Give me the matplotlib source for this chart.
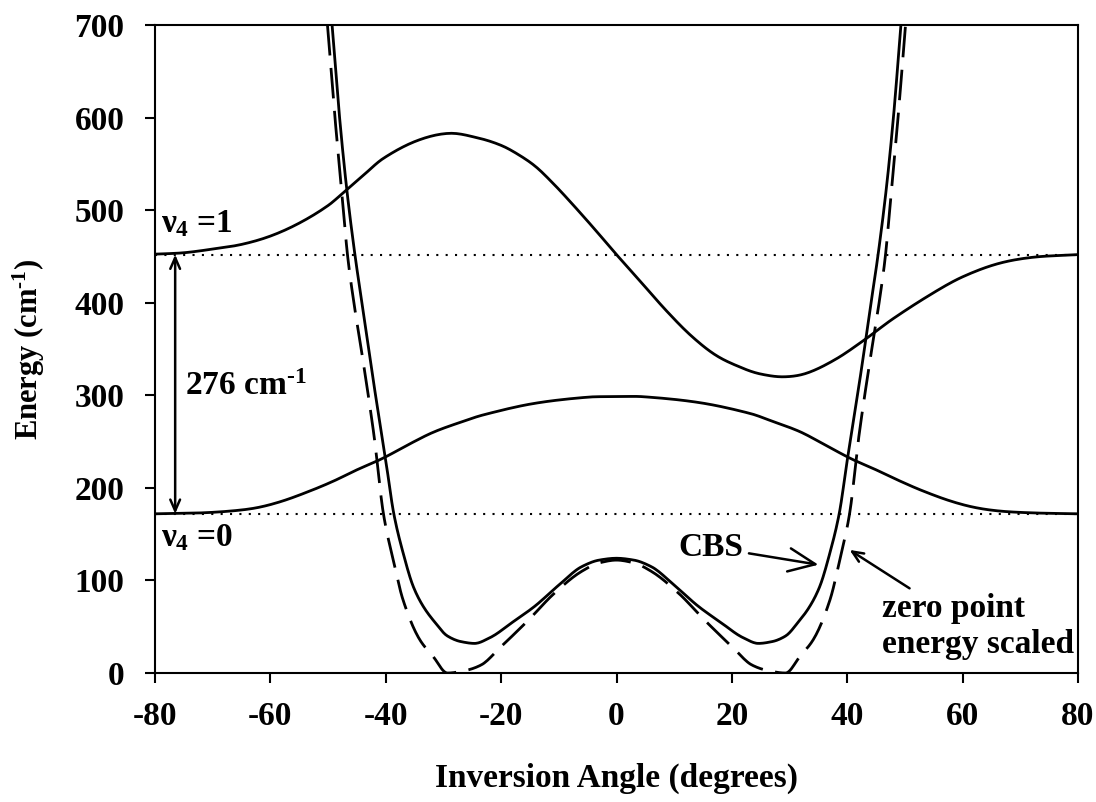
import numpy as np
import matplotlib
matplotlib.use("Agg")
import matplotlib.pyplot as plt

plt.rcParams['font.family'] = ['Liberation Serif', 'DejaVu Serif']
plt.rcParams['font.weight'] = 'bold'
plt.rcParams['axes.labelweight'] = 'bold'
plt.rcParams['axes.unicode_minus'] = False
plt.rcParams['mathtext.fontset'] = 'custom'
plt.rcParams['mathtext.rm'] = 'Liberation Serif:bold'
plt.rcParams['mathtext.it'] = 'Liberation Serif:bold'
plt.rcParams['mathtext.bf'] = 'Liberation Serif:bold'

# v4 = 1 level (upper band)
upper_x = [-80, -75, -70, -65, -60, -55, -50, -46.8, -44, -40.4, -34.6, -29, -24, -20, -17,
           -14, -11, -8, -4, 0, 4, 8.7, 13, 17.3, 22, 25, 29, 33, 38, 43, 48, 55, 60, 66, 72, 80]
upper_e = [452.5, 454, 458, 463, 472, 486, 505, 522, 537, 556, 575, 583, 578, 570, 560,
           547, 529, 509, 481, 452, 424, 391, 364, 343, 329, 323, 320, 324, 339, 360, 383,
           411, 428, 442, 449, 452]

# v4 = 0 level (lower band)
lower_x = [-80, -72, -66, -62, -57.8, -53, -49, -45, -40.5, -36, -31.8, -27, -23, -14.5, -5, 0,
           4.6, 14.5, 23.1, 27, 31.8, 36, 40.5, 45, 49.1, 53, 57.8, 62, 66.4, 72.2, 80]
lower_e = [172, 173, 175.5, 179, 186, 197, 207.5, 219.5, 232, 247, 260, 271, 279, 291, 298,
           298.5, 298.5, 292, 280.5, 272, 260.7, 247, 232, 219.5, 207.5, 197, 186, 179, 175,
           173, 172]

# CBS potential (solid)
cbs_x = [-49.3, -48, -46.8, -45.3, -44, -42.5, -40, -38.6, -37, -35.2, -33.5, -31.5, -29.3,
         -27, -24.6, -22, -18, -14.2, -10, -6, -3, 0,
         3, 6, 10, 14.2, 18, 22, 24.6, 27, 29.3, 31.5, 33.5, 35.2, 37, 38.6, 40, 42.5, 44,
         45.3, 46.8, 48, 49.3]
cbs_e = [700, 600, 525, 450, 395, 330, 230, 172, 130, 93, 72, 55, 40,
         34, 32, 38, 55, 72, 95, 115, 122, 124,
         122, 115, 95, 72, 55, 38, 32, 34, 40, 55, 72, 93, 130, 172, 230, 330, 395,
         450, 525, 600, 700]

# zero point energy scaled potential (dashed)
zpe_x = [-50.1, -48.8, -47.5, -46.6, -45.4, -44, -42, -40.4, -38.7, -37, -34.1, -31.8,
         -29.3, -26, -23.5, -20.1, -15.3, -10.8, -6, -3, 0,
         3, 6, 10.8, 15.3, 20.1, 23.5, 26, 29.3, 31.8, 34.1, 37, 38.7, 40.4, 42, 44, 45.4,
         46.6, 47.5, 48.8, 50.1]
zpe_e = [700, 600, 511, 450, 395, 340, 255, 172, 122, 79, 36, 18,
         0, 3, 8.6, 28, 57, 86, 110, 119, 122,
         119, 110, 86, 57, 28, 8.6, 3, 0, 18, 36, 79, 122, 172, 255, 340, 395,
         450, 511, 600, 700]

level_1 = 452
level_0 = 172

x_ticks = [-80, -60, -40, -20, 0, 20, 40, 60, 80]
y_ticks = [0, 100, 200, 300, 400, 500, 600, 700]


def smooth(x, y, n=12, monotone=True):
    # cubic hermite curve through the read points, only for drawing
    x = np.asarray(x, float)
    y = np.asarray(y, float)
    h = np.diff(x)
    d = np.diff(y) / h
    m = np.zeros_like(y)
    for k in range(1, len(x) - 1):
        if not monotone:
            m[k] = (y[k + 1] - y[k - 1]) / (x[k + 1] - x[k - 1])
        elif d[k - 1] * d[k] > 0:
            w1 = 2 * h[k] + h[k - 1]
            w2 = h[k] + 2 * h[k - 1]
            m[k] = (w1 + w2) / (w1 / d[k - 1] + w2 / d[k])
    m[0] = d[0]
    m[-1] = d[-1]
    xs, ys = [], []
    for k in range(len(x) - 1):
        t = np.linspace(0, 1, n, endpoint=False)
        h00 = 2 * t**3 - 3 * t**2 + 1
        h10 = t**3 - 2 * t**2 + t
        h01 = -2 * t**3 + 3 * t**2
        h11 = t**3 - t**2
        xs.append(x[k] + t * h[k])
        ys.append(h00 * y[k] + h10 * h[k] * m[k] + h01 * y[k + 1] + h11 * h[k] * m[k + 1])
    xs.append([x[-1]])
    ys.append([y[-1]])
    return np.concatenate(xs), np.concatenate(ys)


fig = plt.figure(figsize=(10.96, 8.02), dpi=100)
ax = fig.add_axes([0.1414, 0.1608, 0.8422, 0.808])

ax.axhline(level_1, color='black', lw=1.5, linestyle=(0, (1, 3.5)))
ax.axhline(level_0, color='black', lw=1.5, linestyle=(0, (1, 3.5)))

ax.plot(*smooth(upper_x, upper_e, monotone=False), color='black', lw=2)
ax.plot(*smooth(lower_x, lower_e, monotone=False), color='black', lw=2)
ax.plot(*smooth(cbs_x, cbs_e), color='black', lw=2)
ax.plot(*smooth(zpe_x, zpe_e), color='black', lw=2, linestyle=(0, (11, 4.5)))

ax.annotate('', xy=(-76.5, level_1), xytext=(-76.5, level_0),
            arrowprops=dict(arrowstyle='<->, head_length=0.8, head_width=0.35',
                            color='black', lw=1.8, shrinkA=0, shrinkB=0))

ax.text(-79, 476, r'$\nu_4$ =1', fontsize=24, ha='left', va='baseline')
ax.text(-79, 137, r'$\nu_4$ =0', fontsize=24, ha='left', va='baseline')
ax.text(-74.8, 309, r'276 cm$^{\text{-1}}$', fontsize=24, ha='left', va='center')

ax.annotate('CBS', xy=(35, 117), xytext=(22, 136), fontsize=24, ha='right', va='center',
            arrowprops=dict(arrowstyle='->, head_length=0.8, head_width=0.35',
                            color='black', lw=1.8, shrinkA=2, shrinkB=0))
ax.annotate('', xy=(40.4, 133), xytext=(50.8, 91.5),
            arrowprops=dict(arrowstyle='->, head_length=0.8, head_width=0.35',
                            color='black', lw=1.8, shrinkA=0, shrinkB=0))
ax.text(79.3, 50, 'zero point\nenergy scaled', fontsize=24, ha='right', va='center',
        linespacing=1.2, multialignment='left')

ax.set_xlim(-80, 80)
ax.set_ylim(0, 700)
ax.set_xticks(x_ticks)
ax.set_yticks(y_ticks)
ax.tick_params(direction='out', length=7, width=1.5, labelsize=24, color='black')
ax.tick_params(axis='x', pad=13)
ax.tick_params(axis='y', pad=15)
for s in ax.spines.values():
    s.set_linewidth(1.5)

ax.set_xlabel('Inversion Angle (degrees)', fontsize=24, labelpad=22)
ax.set_ylabel(r'Energy (cm$^{\text{-1}}$)', fontsize=22, labelpad=20)

fig.savefig('out.png', dpi=100)
